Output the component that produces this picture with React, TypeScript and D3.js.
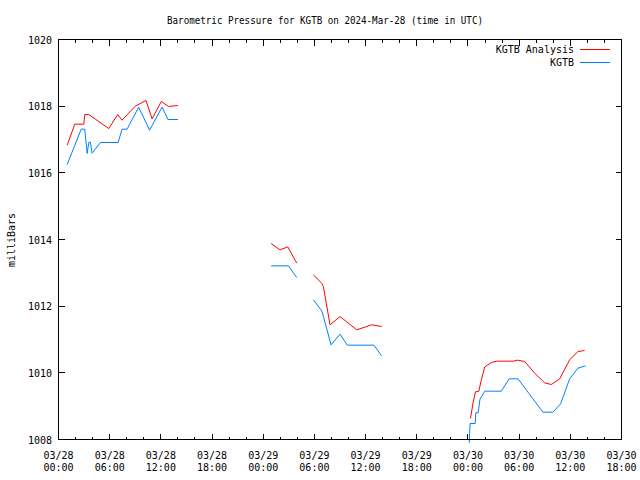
import React from "react";
import * as d3 from "d3";

const titleText = "Barometric Pressure for KGTB on 2024-Mar-28 (time in UTC)";
const yAxisLabel = "milliBars";
const seriesNames = ["KGTB Analysis", "KGTB"];
const seriesColors = ["#ff0000", "#0080ff"];
const startDate = "2024-03-28T00:00:00Z";
const endHours = 66;
const yTicks = [1008, 1010, 1012, 1014, 1016, 1018, 1020];

// hours since 03/28 00:00 UTC; null breaks the line
const analysisHours: (number | null)[] = [
  1.02, 1.91, 2.96, 3.08, 3.55, 5.89, 6.94, 7.45, 9.01, 10.26, 10.97, 12.05, 12.9, 14.0, null,
  24.93, 25.98, 26.88, 27.93, null,
  29.88, 30.86, 31.05, 31.83, 33.0, 34.96, 36.71, 37.88, null,
  48.3, 48.6, 48.88, 49.27, 49.58, 49.97, 50.75, 51.34, 53.29, 53.8, 54.65, 55.82, 56.99, 57.77, 58.75, 59.92, 60.89, 61.67,
];
const analysisValues: (number | null)[] = [
  1016.83, 1017.46, 1017.46, 1017.75, 1017.75, 1017.33, 1017.75, 1017.58, 1018.0, 1018.17, 1017.62, 1018.14, 1017.99, 1018.02, null,
  1013.88, 1013.69, 1013.78, 1013.29, null,
  1012.94, 1012.69, 1012.59, 1011.44, 1011.69, 1011.29, 1011.44, 1011.39, null,
  1008.63, 1009.1, 1009.43, 1009.45, 1009.8, 1010.18, 1010.31, 1010.35, 1010.35, 1010.38, 1010.34, 1009.99, 1009.7, 1009.65, 1009.82, 1010.39, 1010.64, 1010.67,
];

const obsHours: (number | null)[] = [
  1.02, 2.66, 3.08, 3.36, 3.55, 3.74, 3.94, 4.92, 6.99, 7.45, 8.04, 9.4, 10.68, 12.14, 12.84, 14.0, null,
  24.93, 26.95, 27.93, null,
  29.88, 30.86, 31.05, 31.95, 33.0, 33.86, 36.98, 37.88, null,
  48.15, 48.25, 48.85, 48.92, 49.2, 49.4, 49.97, 51.92, 52.82, 53.87, 56.79, 57.96, 58.86, 59.92, 60.89, 61.79,
];
const obsValues: (number | null)[] = [
  1016.25, 1017.31, 1017.31, 1016.58, 1016.91, 1016.92, 1016.59, 1016.91, 1016.91, 1017.31, 1017.31, 1017.97, 1017.28, 1017.97, 1017.6, 1017.6, null,
  1013.21, 1013.21, 1012.86, null,
  1012.19, 1011.86, 1011.7, 1010.84, 1011.16, 1010.83, 1010.83, 1010.51, null,
  1007.9, 1008.48, 1008.48, 1008.8, 1008.8, 1009.2, 1009.45, 1009.45, 1009.82, 1009.82, 1008.82, 1008.82, 1009.07, 1009.82, 1010.14, 1010.21,
];

const W = 640, H = 480;
const L = 58.5, R = 621.5, T = 39.5, B = 439.5;
const FONT = "'DejaVu Sans Mono', 'Liberation Mono', monospace";

export default function App() {
  const t0 = new Date(startDate);
  const toDate = (h: number) => new Date(t0.getTime() + h * 3600000);
  const x = d3.scaleUtc().domain([t0, toDate(endHours)]).range([L, R]);
  const y = d3.scaleLinear().domain([1008, 1020]).range([B, T]);

  const majorTicks = x.ticks(d3.utcHour.every(6) as any);
  const minorTicks = x.ticks(d3.utcHour.every(2) as any);
  const fmtDate = d3.utcFormat("%m/%d");
  const fmtTime = d3.utcFormat("%H:%M");

  const mk = (hs: (number | null)[], vs: (number | null)[]) =>
    hs.map((h, i) => ({ h, v: vs[i] }));
  const line = d3
    .line<{ h: number | null; v: number | null }>()
    .defined((d) => d.h !== null && d.v !== null)
    .x((d) => x(toDate(d.h as number)))
    .y((d) => y(d.v as number));

  const series = [mk(analysisHours, analysisValues), mk(obsHours, obsValues)];

  return (
    <svg
      width={W}
      height={H}
      style={{ position: "absolute", left: 0, top: 0, background: "#fff" }}
      fontFamily={FONT}
      fontSize={10}
    >
      <rect x={0} y={0} width={W} height={H} fill="#fff" />
      <text
        x={325}
        y={24}
        textAnchor="middle"
        fill="#000"
        textLength={316}
        lengthAdjust="spacingAndGlyphs"
      >
        {titleText}
      </text>
      {/* ticks */}
      <g stroke="#000" strokeWidth={1} shapeRendering="crispEdges">
        {minorTicks.map((d, i) => (
          <g key={"mi" + i}>
            <line x1={x(d)} x2={x(d)} y1={B} y2={B - 3} />
            <line x1={x(d)} x2={x(d)} y1={T} y2={T + 3} />
          </g>
        ))}
        {majorTicks.map((d, i) => (
          <g key={"ma" + i}>
            <line x1={x(d)} x2={x(d)} y1={B} y2={B - 6} />
            <line x1={x(d)} x2={x(d)} y1={T} y2={T + 6} />
          </g>
        ))}
        {yTicks.map((v) => (
          <g key={"yt" + v}>
            <line x1={L} x2={L + 6} y1={y(v)} y2={y(v)} />
            <line x1={R} x2={R - 6} y1={y(v)} y2={y(v)} />
          </g>
        ))}
      </g>
      {/* y labels */}
      {yTicks.map((v) => (
        <text key={"yl" + v} x={52} y={y(v) + 4} textAnchor="end" fill="#000">
          {v}
        </text>
      ))}
      {/* x labels */}
      {majorTicks.map((d, i) => (
        <text key={"xl" + i} x={x(d)} textAnchor="middle" fill="#000">
          <tspan x={x(d)} y={459}>{fmtDate(d)}</tspan>
          <tspan x={x(d)} y={471}>{fmtTime(d)}</tspan>
        </text>
      ))}
      <text
        transform={`translate(14.5,240) rotate(-90)`}
        textAnchor="middle"
        fill="#000"
      >
        {yAxisLabel}
      </text>
      {/* data */}
      {series.map((s, i) => (
        <path
          key={"s" + i}
          d={line(s) || ""}
          fill="none"
          stroke={seriesColors[i]}
          strokeWidth={1}
        />
      ))}
      {/* legend */}
      {seriesNames.map((n, i) => (
        <g key={"lg" + i}>
          <text x={574} y={53 + i * 13} textAnchor="end" fill="#000">
            {n}
          </text>
          <line
            x1={580}
            x2={610}
            y1={49.5 + i * 13}
            y2={49.5 + i * 13}
            stroke={seriesColors[i]}
            strokeWidth={1}
            shapeRendering="crispEdges"
          />
        </g>
      ))}
      {/* frame */}
      <rect
        x={L}
        y={T}
        width={R - L}
        height={B - T}
        fill="none"
        stroke="#000"
        strokeWidth={1}
        shapeRendering="crispEdges"
      />
    </svg>
  );
}
